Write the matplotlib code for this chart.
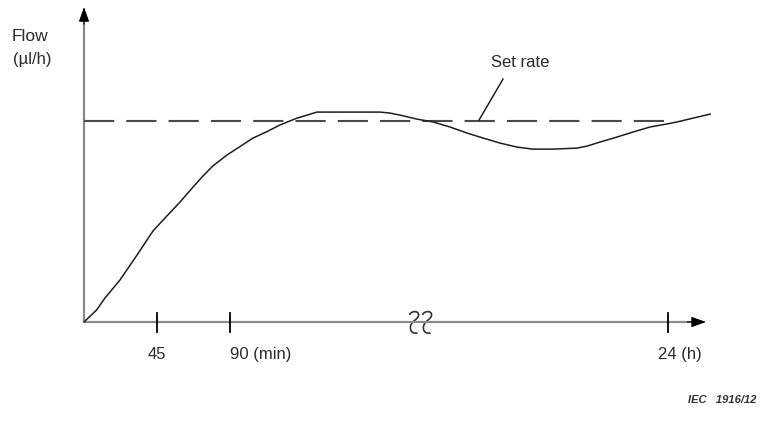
#!/usr/bin/env python3
"""Flow vs time sketch with set-rate line (IEC style figure)."""

import matplotlib
matplotlib.use("Agg")
import matplotlib.pyplot as plt
from matplotlib.path import Path
from matplotlib.patches import PathPatch

# time axis position (minutes scale before the break, arbitrary after it)
time_pos = [0, 7.8, 12.9, 22.2, 32.7, 42.5, 51.0, 59.2, 65.4, 73.4, 79.5,
            88.2, 96.2, 104.2, 112.8, 120.8, 131.3, 137.5, 143.6, 182.5,
            188.7, 194.8, 205.3, 215.2, 225.6, 236.1, 246.0, 256.5, 267.0,
            276.8, 289.2, 303.9, 310.1, 318.1, 328.6, 338.5, 349.0, 359.4,
            365.6, 375.5, 386.0]
flow = [0, 6.0, 11.9, 20.9, 33.3, 45.2, 52.6, 59.6, 65.4, 72.6, 77.6,
        83.0, 87.2, 91.4, 94.6, 97.9, 101.3, 102.8, 104.3, 104.3,
        103.8, 102.8, 100.8, 99.4, 96.9, 93.9, 91.4, 88.9, 86.9,
        85.9, 85.9, 86.4, 87.4, 89.4, 91.9, 94.4, 96.9, 98.4,
        99.4, 101.3, 103.3]
set_rate = 100
set_rate_end = 362.5
tick_pos = [45, 90, 360]
tick_labels = ["45", "90 (min)", "24 (h)"]
tick_label_x = [45, 90, 354]
tick_label_ha = ["center", "left", "left"]
break_pos = [203.5, 211.5]

AXIS_GREY = "#8a8a8a"
TEXT = "#2b2b2b"
PX_X = 1.622   # pixels per x unit
PX_Y = 2.013   # pixels per y unit

plt.rcParams["font.family"] = ["Liberation Sans", "DejaVu Sans"]

fig = plt.figure(figsize=(7.63, 4.22), dpi=100)
ax = fig.add_axes([0, 0, 1, 1])
ax.set_xlim(-51.8, 418.6)
ax.set_ylim(-49.7, 160.0)
ax.axis("off")

# axes with arrow heads
ax.plot([0, 0], [0, 152], color=AXIS_GREY, lw=1.6, solid_capstyle="butt")
ax.plot([0, 376], [0, 0], color=AXIS_GREY, lw=1.6, solid_capstyle="butt")
ax.annotate("", xy=(0, 156.5), xytext=(0, 148),
            arrowprops=dict(arrowstyle="-|>,head_length=0.9,head_width=0.32",
                            color="black", lw=0.8, shrinkA=0, shrinkB=0))
ax.annotate("", xy=(383.5, 0), xytext=(372, 0),
            arrowprops=dict(arrowstyle="-|>,head_length=0.9,head_width=0.32",
                            color="black", lw=0.8, shrinkA=0, shrinkB=0))

# ticks and labels
for x, lab, lx, ha in zip(tick_pos, tick_labels, tick_label_x, tick_label_ha):
    ax.plot([x, x], [-5, 4.5], color="black", lw=1.3)
    ax.text(lx, -16.4, lab, ha=ha, va="center", fontsize=12, color=TEXT)

# axis break symbol: two small hooked squiggles (local pixel offsets)
squiggle = [(1, 4), (2, 0), (10, -1), (10, 4), (10, 8), (3, 10), (2, 15),
            (1, 20), (4, 23), (9, 22)]
codes = [Path.MOVETO] + [Path.CURVE4] * 9
for cx in break_pos:
    verts = [(cx + (dx - 5.5) / PX_X, -(dy - 11) / PX_Y) for dx, dy in squiggle]
    ax.add_patch(PathPatch(Path(verts, codes), fill=False,
                           edgecolor="#333333", lw=1.2))

# set rate line
ax.plot([0, set_rate_end], [set_rate, set_rate], color="#4a4a4a", lw=1.5,
        dashes=(14.5, 5.8), dash_capstyle="butt")
ax.plot([243.5, 258.3], [set_rate + 0.3, 120.7], color="#222222", lw=1.1)
ax.text(268.8, 128.7, "Set rate", ha="center", va="center",
        fontsize=12, color=TEXT)

# flow curve
ax.plot(time_pos, flow, color="#1e1e1e", lw=1.1)

# y label
ax.text(-44.4, 142.1, "Flow", ha="left", va="center", fontsize=12.5, color=TEXT)
ax.text(-43.8, 130.2, "(\u00b5l/h)", ha="left", va="center", fontsize=12,
        color=TEXT)

fig.text(0.992, 0.052, "IEC   1916/12", ha="right", va="center", fontsize=8,
         style="italic", weight="bold", color="#333333")

fig.savefig("out.png", dpi=100)
